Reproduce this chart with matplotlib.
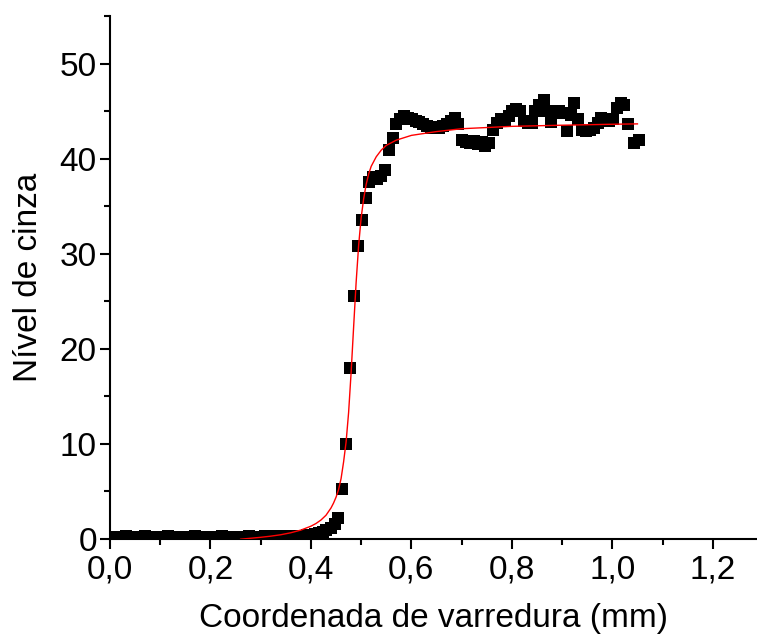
import numpy as np
import matplotlib
matplotlib.use('Agg')
import matplotlib.pyplot as plt
from matplotlib.ticker import MultipleLocator, FuncFormatter

plt.rcParams['font.family'] = ['Liberation Sans', 'DejaVu Sans']

# pontos medidos (coordenada em mm, nível de cinza)
x_data = [0.000, 0.008, 0.015, 0.023, 0.031, 0.039, 0.046, 0.054, 0.062, 0.069,
          0.077, 0.085, 0.092, 0.100, 0.108, 0.116, 0.123, 0.131, 0.139, 0.146,
          0.154, 0.162, 0.169, 0.177, 0.185, 0.193, 0.200, 0.208, 0.216, 0.223,
          0.231, 0.239, 0.246, 0.254, 0.262, 0.270, 0.277, 0.285, 0.293, 0.300,
          0.308, 0.316, 0.323, 0.331, 0.339, 0.347, 0.354, 0.362, 0.370, 0.377,
          0.385, 0.393, 0.400, 0.408, 0.416, 0.424, 0.431, 0.439, 0.447, 0.454,
          0.462, 0.470, 0.478, 0.486, 0.494, 0.502, 0.509, 0.516, 0.524, 0.532,
          0.539, 0.547, 0.555, 0.563, 0.570, 0.578, 0.586, 0.593, 0.601, 0.609,
          0.616, 0.624, 0.632, 0.640, 0.647, 0.655, 0.663, 0.670, 0.678, 0.686,
          0.693, 0.701, 0.709, 0.716, 0.724, 0.732, 0.740, 0.747, 0.755, 0.763,
          0.770, 0.778, 0.786, 0.794, 0.801, 0.809, 0.817, 0.824, 0.832, 0.840,
          0.847, 0.855, 0.863, 0.870, 0.878, 0.886, 0.894, 0.901, 0.909, 0.917,
          0.924, 0.932, 0.940, 0.947, 0.955, 0.963, 0.971, 0.978, 0.986, 0.994,
          1.001, 1.009, 1.017, 1.024, 1.032, 1.043, 1.053]
y_data = [0.25, 0.24, 0.26, 0.25, 0.27, 0.25, 0.24, 0.26, 0.25, 0.27,
          0.26, 0.25, 0.24, 0.26, 0.25, 0.27, 0.26, 0.25, 0.24, 0.26,
          0.25, 0.26, 0.27, 0.25, 0.24, 0.26, 0.25, 0.26, 0.25, 0.27,
          0.25, 0.24, 0.26, 0.25, 0.26, 0.25, 0.27, 0.26, 0.25, 0.26,
          0.27, 0.25, 0.26, 0.28, 0.27, 0.29, 0.28, 0.30, 0.31, 0.33,
          0.35, 0.38, 0.42, 0.50, 0.60, 0.75, 0.95, 1.20, 1.60, 2.20,
          5.3, 10.0, 18.0, 25.6, 30.8, 33.6, 35.9, 37.5, 38.1, 37.9,
          38.2, 38.8, 40.9, 42.2, 43.6, 44.2, 44.5, 44.3, 44.2, 44.0,
          43.9, 43.6, 43.4, 43.2, 43.3, 43.2, 43.4, 43.6, 44.0, 44.3,
          43.6, 42.0, 41.8, 41.6, 41.9, 41.5, 41.8, 41.3, 41.6, 43.0,
          43.8, 44.2, 44.0, 44.5, 45.0, 45.2, 45.0, 44.0, 43.8, 43.8,
          45.0, 45.6, 46.2, 45.0, 43.9, 44.8, 45.0, 44.8, 42.9, 44.6,
          45.9, 44.2, 43.0, 42.9, 43.0, 43.2, 43.8, 44.3, 44.1, 44.0,
          44.2, 45.3, 45.9, 45.6, 43.6, 41.6, 42.0]

# curva ajustada (vermelha)
x_fit = [0.26, 0.28, 0.30, 0.32, 0.34, 0.36, 0.38, 0.40, 0.41, 0.42,
         0.43, 0.44, 0.445, 0.45, 0.455, 0.46, 0.465, 0.47, 0.475, 0.48,
         0.485, 0.49, 0.495, 0.50, 0.505, 0.51, 0.515, 0.52, 0.53, 0.54,
         0.55, 0.57, 0.60, 0.65, 0.70, 0.80, 0.90, 1.00, 1.05]
y_fit = [-0.02, 0.08, 0.18, 0.30, 0.45, 0.66, 0.94, 1.35, 1.63, 2.00,
         2.50, 3.27, 3.78, 4.40, 5.20, 6.35, 8.10, 10.2, 13.3, 17.5,
         22.3, 27.0, 30.9, 33.8, 35.8, 37.3, 38.4, 39.2, 40.2, 40.9,
         41.4, 41.95, 42.45, 42.85, 43.15, 43.40, 43.52, 43.62, 43.66]

fig = plt.figure(figsize=(7.57, 6.42), dpi=100)
ax = fig.add_axes([0.1453, 0.1604, 0.8547, 0.8146])

ax.plot(x_data, y_data, 's', color='black', markersize=8.2, markeredgewidth=0, zorder=2)
ax.plot(x_fit, y_fit, '-', color='red', linewidth=1.0, zorder=3)

ax.set_xlim(0, 1.288)
ax.set_ylim(0, 55)

ax.spines['top'].set_visible(False)
ax.spines['right'].set_visible(False)
ax.spines['left'].set_linewidth(1.5)
ax.spines['bottom'].set_linewidth(1.5)

ax.xaxis.set_major_locator(MultipleLocator(0.2))
ax.xaxis.set_minor_locator(MultipleLocator(0.1))
ax.yaxis.set_major_locator(MultipleLocator(10))
ax.yaxis.set_minor_locator(MultipleLocator(5))
ax.xaxis.set_major_formatter(FuncFormatter(lambda v, p: ('%.1f' % v).replace('.', ',')))
ax.yaxis.set_major_formatter(FuncFormatter(lambda v, p: '%d' % v))

ax.tick_params(which='major', direction='out', length=7.5, width=1.5, labelsize=24)
ax.tick_params(which='minor', direction='out', length=4, width=1.5)
ax.tick_params(axis='x', which='major', pad=4)
ax.tick_params(axis='y', which='major', pad=2)

ax.set_xlabel('Coordenada de varredura (mm)', fontsize=24, labelpad=12)
ax.set_ylabel('Nível de cinza', fontsize=24, labelpad=11)

fig.savefig('out.png', dpi=100)
